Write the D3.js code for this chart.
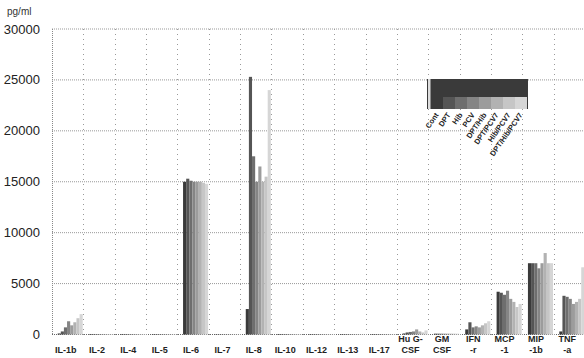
<!DOCTYPE html>
<html>
<head>
<meta charset="utf-8">
<script src="https://cdn.jsdelivr.net/npm/d3@7"></script>
<style>
  body { margin: 0; background: #fff; }
  text { font-family: "Liberation Sans", Arial, sans-serif; }
</style>
</head>
<body>
<svg id="chart" width="584" height="358"></svg>
<script>
// categories (second line of label after "|")
const categories = ['IL-1b', 'IL-2', 'IL-4', 'IL-5', 'IL-6', 'IL-7', 'IL-8', 'IL-10', 'IL-12',
  'IL-13', 'IL-17', 'Hu G-|CSF', 'GM|CSF', 'IFN|-r', 'MCP|-1', 'MIP|-1b', 'TNF|-a'];
const groups = ['Cont', 'DPT', 'Hib', 'PCV', 'DPT/Hib', 'DPT/PCV7', 'Hib/PCV7', 'DPT/Hib/PCV7'];
const yTicks = [0, 5000, 10000, 15000, 20000, 25000, 30000];

// values in pg/ml, one array per group, in category order
const cont       = [100, 50, 50, 40, 15000, 30, 2500, 50, 40, 40, 40, 100, 80, 500, 4200, 7000, 300];
const dpt        = [300, 50, 50, 40, 15300, 30, 25300, 50, 40, 40, 40, 200, 80, 1200, 4100, 7000, 3800];
const hib        = [700, 50, 50, 40, 15100, 30, 17500, 50, 40, 40, 40, 250, 80, 700, 3900, 7000, 3700];
const pcv        = [1300, 50, 50, 40, 15000, 30, 15000, 50, 40, 40, 40, 300, 80, 800, 4300, 6500, 3500];
const dptHib     = [900, 50, 50, 40, 15000, 30, 16500, 50, 40, 40, 40, 500, 80, 700, 3500, 7000, 3000];
const dptPcv7    = [1200, 50, 50, 40, 15000, 30, 15000, 50, 40, 40, 40, 300, 80, 900, 3200, 8000, 3200];
const hibPcv7    = [1600, 50, 50, 40, 14900, 30, 15500, 50, 40, 40, 40, 200, 80, 1100, 2700, 7000, 3500];
const dptHibPcv7 = [2000, 50, 50, 40, 14800, 30, 24000, 50, 40, 40, 40, 400, 80, 1300, 3000, 7000, 6600];
const series = [cont, dpt, hib, pcv, dptHib, dptPcv7, hibPcv7, dptHibPcv7];

const colors = ['#3a3a3a', '#555', '#6e6e6e', '#858585', '#9c9c9c', '#b2b2b2', '#c6c6c6', '#d6d6d6'];

const svg = d3.select('#chart');
const margin = { top: 29, right: 0, bottom: 23, left: 52 };
const width = 584, height = 358;

const x = d3.scaleBand()
    .domain(categories)
    .range([margin.left, width - margin.right + 1]);

const y = d3.scaleLinear()
    .domain([0, 30000])
    .range([height - margin.bottom - 0.5, margin.top]);

const xs = d3.scaleBand()
    .domain(groups)
    .range([x.bandwidth() * 0.18, x.bandwidth() * 0.98]);

// horizontal dotted grid
svg.append('g')
  .selectAll('line')
  .data(yTicks)
  .enter().append('line')
    .attr('x1', margin.left)
    .attr('x2', width)
    .attr('y1', d => y(d))
    .attr('y2', d => y(d))
    .attr('stroke', d => d === 0 ? '#666' : '#999')
    .attr('stroke-width', 1)
    .attr('stroke-dasharray', '1,1');

// vertical dotted grid at category boundaries
svg.append('g')
  .selectAll('line')
  .data(categories.slice(1))
  .enter().append('line')
    .attr('x1', d => Math.round(x(d)) + 0.5)
    .attr('x2', d => Math.round(x(d)) + 0.5)
    .attr('y1', y(30000))
    .attr('y2', y(0) + 4)
    .attr('stroke', '#999')
    .attr('stroke-dasharray', '1,4');

// left axis line
svg.append('line')
    .attr('x1', margin.left + 0.5)
    .attr('x2', margin.left + 0.5)
    .attr('y1', y(30000))
    .attr('y2', y(0))
    .attr('stroke', '#888')
    .attr('stroke-dasharray', '1,1');

// bars
const bars = svg.append('g');
series.forEach((vals, gi) => {
  bars.append('g')
      .attr('fill', colors[gi])
    .selectAll('rect')
      .data(vals.map((v, ci) => ({ cat: categories[ci], v })))
    .enter().append('rect')
      .attr('x', d => x(d.cat) + xs(groups[gi]))
      .attr('y', d => y(d.v))
      .attr('width', xs.bandwidth())
      .attr('height', d => y(0) - y(d.v));
});

// y tick labels
svg.append('g')
  .selectAll('text')
  .data(yTicks)
  .enter().append('text')
    .attr('x', 40)
    .attr('y', d => y(d) + 4.5)
    .attr('text-anchor', 'end')
    .attr('font-size', 13)
    .attr('fill', '#222')
    .text(d => d);

svg.append('text')
    .attr('x', 7)
    .attr('y', 15)
    .attr('font-size', 10)
    .attr('fill', '#333')
    .text('pg/ml');

// category labels
const catLabels = svg.append('g')
  .selectAll('text')
  .data(categories)
  .enter().append('text')
    .attr('text-anchor', 'middle')
    .attr('font-size', 9)
    .attr('font-weight', 'bold')
    .attr('fill', '#222');
catLabels.each(function (d) {
  const parts = d.split('|');
  const cx = x(d) + x.bandwidth() / 2 - 2;
  const t = d3.select(this);
  if (parts.length === 1) {
    t.append('tspan').attr('x', cx).attr('y', 353).text(parts[0]);
  } else {
    t.append('tspan').attr('x', cx).attr('y', 342).text(parts[0]);
    t.append('tspan').attr('x', cx).attr('y', 353).text(parts[1]);
  }
});

// legend: dark box with the group shades, names rotated underneath
const lg = svg.append('g').attr('transform', 'translate(427,79)');
const lx = d3.scaleBand().domain(groups).range([4, 100]);
lg.append('rect')
    .attr('width', 101)
    .attr('height', 30)
    .attr('fill', '#3a3a3a');
lg.append('rect')
    .attr('x', 1)
    .attr('width', 2.5)
    .attr('height', 30)
    .attr('fill', '#ddd');
lg.selectAll('rect.sw')
  .data(groups)
  .enter().append('rect')
    .attr('class', 'sw')
    .attr('x', d => lx(d))
    .attr('y', 18)
    .attr('width', lx.bandwidth())
    .attr('height', 12)
    .attr('fill', (d, i) => colors[i]);
lg.selectAll('text')
  .data(groups)
  .enter().append('text')
    .attr('transform', d => `translate(${lx(d) + lx.bandwidth() / 2 + 2},36) rotate(-55)`)
    .attr('text-anchor', 'end')
    .attr('font-size', 7.5)
    .attr('font-weight', 'bold')
    .attr('fill', '#222')
    .text(d => d);
</script>
</body>
</html>
